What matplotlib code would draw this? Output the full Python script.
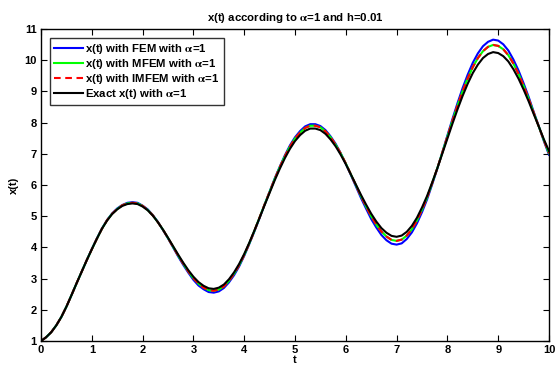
import numpy as np
import matplotlib.pyplot as plt

plt.rcParams['font.family'] = 'Liberation Sans'
plt.rcParams['font.weight'] = 'bold'
plt.rcParams['mathtext.fontset'] = 'stix'

# time grid (step 0.1) and values
t = np.arange(0, 10.001, 0.1)

x_exact = [1.00, 1.12, 1.28, 1.50, 1.77, 2.10, 2.47, 2.85, 3.22, 3.59,
           3.94, 4.28, 4.60, 4.86, 5.07, 5.22, 5.33, 5.39, 5.41, 5.39,
           5.31, 5.19, 5.02, 4.81, 4.57, 4.31, 4.04, 3.77, 3.51, 3.27,
           3.06, 2.89, 2.77, 2.69, 2.67, 2.71, 2.81, 2.98, 3.20, 3.47,
           3.79, 4.15, 4.54, 4.94, 5.35, 5.75, 6.15, 6.52, 6.86, 7.16,
           7.41, 7.60, 7.74, 7.81, 7.81, 7.76, 7.64, 7.46, 7.24, 6.97,
           6.67, 6.34, 6.01, 5.68, 5.37, 5.08, 4.83, 4.62, 4.47, 4.37,
           4.34, 4.38, 4.50, 4.69, 4.95, 5.28, 5.65, 6.08, 6.53, 7.01,
           7.49, 7.97, 8.43, 8.86, 9.25, 9.59, 9.86, 10.07, 10.20, 10.26,
           10.23, 10.13, 9.96, 9.71, 9.41, 9.06, 8.68, 8.27, 7.87, 7.46,
           7.09]
x_fem = [1.00, 1.12, 1.28, 1.50, 1.77, 2.10, 2.47, 2.85, 3.22, 3.59,
         3.95, 4.29, 4.61, 4.88, 5.09, 5.25, 5.36, 5.43, 5.45, 5.43,
         5.34, 5.22, 5.04, 4.82, 4.56, 4.29, 4.00, 3.71, 3.44, 3.19,
         2.96, 2.78, 2.66, 2.57, 2.55, 2.59, 2.70, 2.88, 3.11, 3.39,
         3.73, 4.11, 4.51, 4.93, 5.37, 5.79, 6.21, 6.59, 6.95, 7.27,
         7.53, 7.73, 7.88, 7.95, 7.95, 7.89, 7.76, 7.56, 7.32, 7.02,
         6.68, 6.32, 5.95, 5.58, 5.24, 4.91, 4.64, 4.40, 4.23, 4.12,
         4.09, 4.13, 4.27, 4.48, 4.77, 5.13, 5.54, 6.02, 6.52, 7.05,
         7.59, 8.12, 8.63, 9.11, 9.54, 9.92, 10.22, 10.45, 10.59, 10.66,
         10.63, 10.51, 10.31, 10.02, 9.67, 9.26, 8.82, 8.34, 7.88, 7.40,
         6.97]
x_mfem = [1.00, 1.12, 1.28, 1.50, 1.77, 2.10, 2.47, 2.85, 3.22, 3.59,
          3.94, 4.28, 4.60, 4.87, 5.08, 5.23, 5.35, 5.41, 5.43, 5.41,
          5.33, 5.20, 5.03, 4.81, 4.57, 4.30, 4.02, 3.74, 3.48, 3.23,
          3.01, 2.84, 2.71, 2.63, 2.61, 2.65, 2.75, 2.93, 3.16, 3.43,
          3.76, 4.13, 4.53, 4.95, 5.37, 5.78, 6.19, 6.57, 6.92, 7.23,
          7.49, 7.68, 7.83, 7.90, 7.90, 7.85, 7.72, 7.53, 7.29, 7.01,
          6.69, 6.34, 5.99, 5.64, 5.31, 5.00, 4.73, 4.51, 4.35, 4.24,
          4.21, 4.25, 4.38, 4.58, 4.86, 5.21, 5.60, 6.06, 6.53, 7.04,
          7.55, 8.06, 8.55, 9.01, 9.42, 9.78, 10.07, 10.29, 10.43, 10.49,
          10.46, 10.35, 10.16, 9.89, 9.56, 9.18, 8.76, 8.31, 7.87, 7.43,
          7.02]
x_imfem = [1.00, 1.12, 1.28, 1.50, 1.77, 2.10, 2.47, 2.85, 3.22, 3.59,
           3.94, 4.28, 4.60, 4.87, 5.08, 5.23, 5.35, 5.41, 5.43, 5.41,
           5.33, 5.20, 5.03, 4.81, 4.57, 4.30, 4.02, 3.74, 3.48, 3.23,
           3.01, 2.84, 2.71, 2.63, 2.61, 2.65, 2.75, 2.93, 3.16, 3.43,
           3.76, 4.13, 4.53, 4.95, 5.37, 5.78, 6.19, 6.57, 6.92, 7.23,
           7.49, 7.68, 7.83, 7.90, 7.90, 7.85, 7.72, 7.53, 7.29, 7.01,
           6.69, 6.34, 5.99, 5.64, 5.31, 5.00, 4.73, 4.51, 4.35, 4.24,
           4.21, 4.25, 4.38, 4.58, 4.86, 5.21, 5.60, 6.06, 6.53, 7.04,
           7.55, 8.06, 8.55, 9.01, 9.42, 9.78, 10.07, 10.29, 10.43, 10.49,
           10.46, 10.35, 10.16, 9.89, 9.56, 9.18, 8.76, 8.31, 7.87, 7.43,
           7.02]

labels = [r'x(t) with FEM with $\mathrm{\alpha}$=1',
          r'x(t) with MFEM with $\mathrm{\alpha}$=1',
          r'x(t) with IMFEM with $\mathrm{\alpha}$=1',
          r'Exact x(t) with $\mathrm{\alpha}$=1']

fig = plt.figure(figsize=(5.55, 3.67), dpi=100)
ax = fig.add_axes([0.0739, 0.0708, 0.9153, 0.8501])

ax.plot(t, x_fem, color='#0000ff', lw=1.5, label=labels[0])
ax.plot(t, x_mfem, color='#00ff00', lw=1.5, label=labels[1])
ax.plot(t, x_imfem, color='#ff0000', lw=1.5, ls=(0, (3.2, 2.2)), label=labels[2])
ax.plot(t, x_exact, color='black', lw=1.5, label=labels[3])

ax.set_xlim(0, 10)
ax.set_ylim(1, 11)
ax.set_xticks(range(0, 11))
ax.set_yticks(range(1, 12))
ax.tick_params(direction='in', top=True, right=True, length=4, width=0.8,
               labelsize=8, pad=3)
for s in ax.spines.values():
    s.set_linewidth(1.0)

ax.set_title(r'x(t) according to $\mathrm{\alpha}$=1 and h=0.01',
             fontsize=8.2, fontweight='bold', pad=6)
ax.set_xlabel('t', fontsize=8, fontweight='bold', labelpad=0)
ax.set_ylabel('x(t)', fontsize=8, fontweight='bold', labelpad=4)

leg = ax.legend(loc='upper left', fontsize=8.2, frameon=True, fancybox=False,
                borderaxespad=0.8, handlelength=2.5, handletextpad=0.25,
                labelspacing=0.08, borderpad=0.35)
leg.get_frame().set_edgecolor('black')
leg.get_frame().set_linewidth(1.0)

plt.savefig('out.png', dpi=100)
